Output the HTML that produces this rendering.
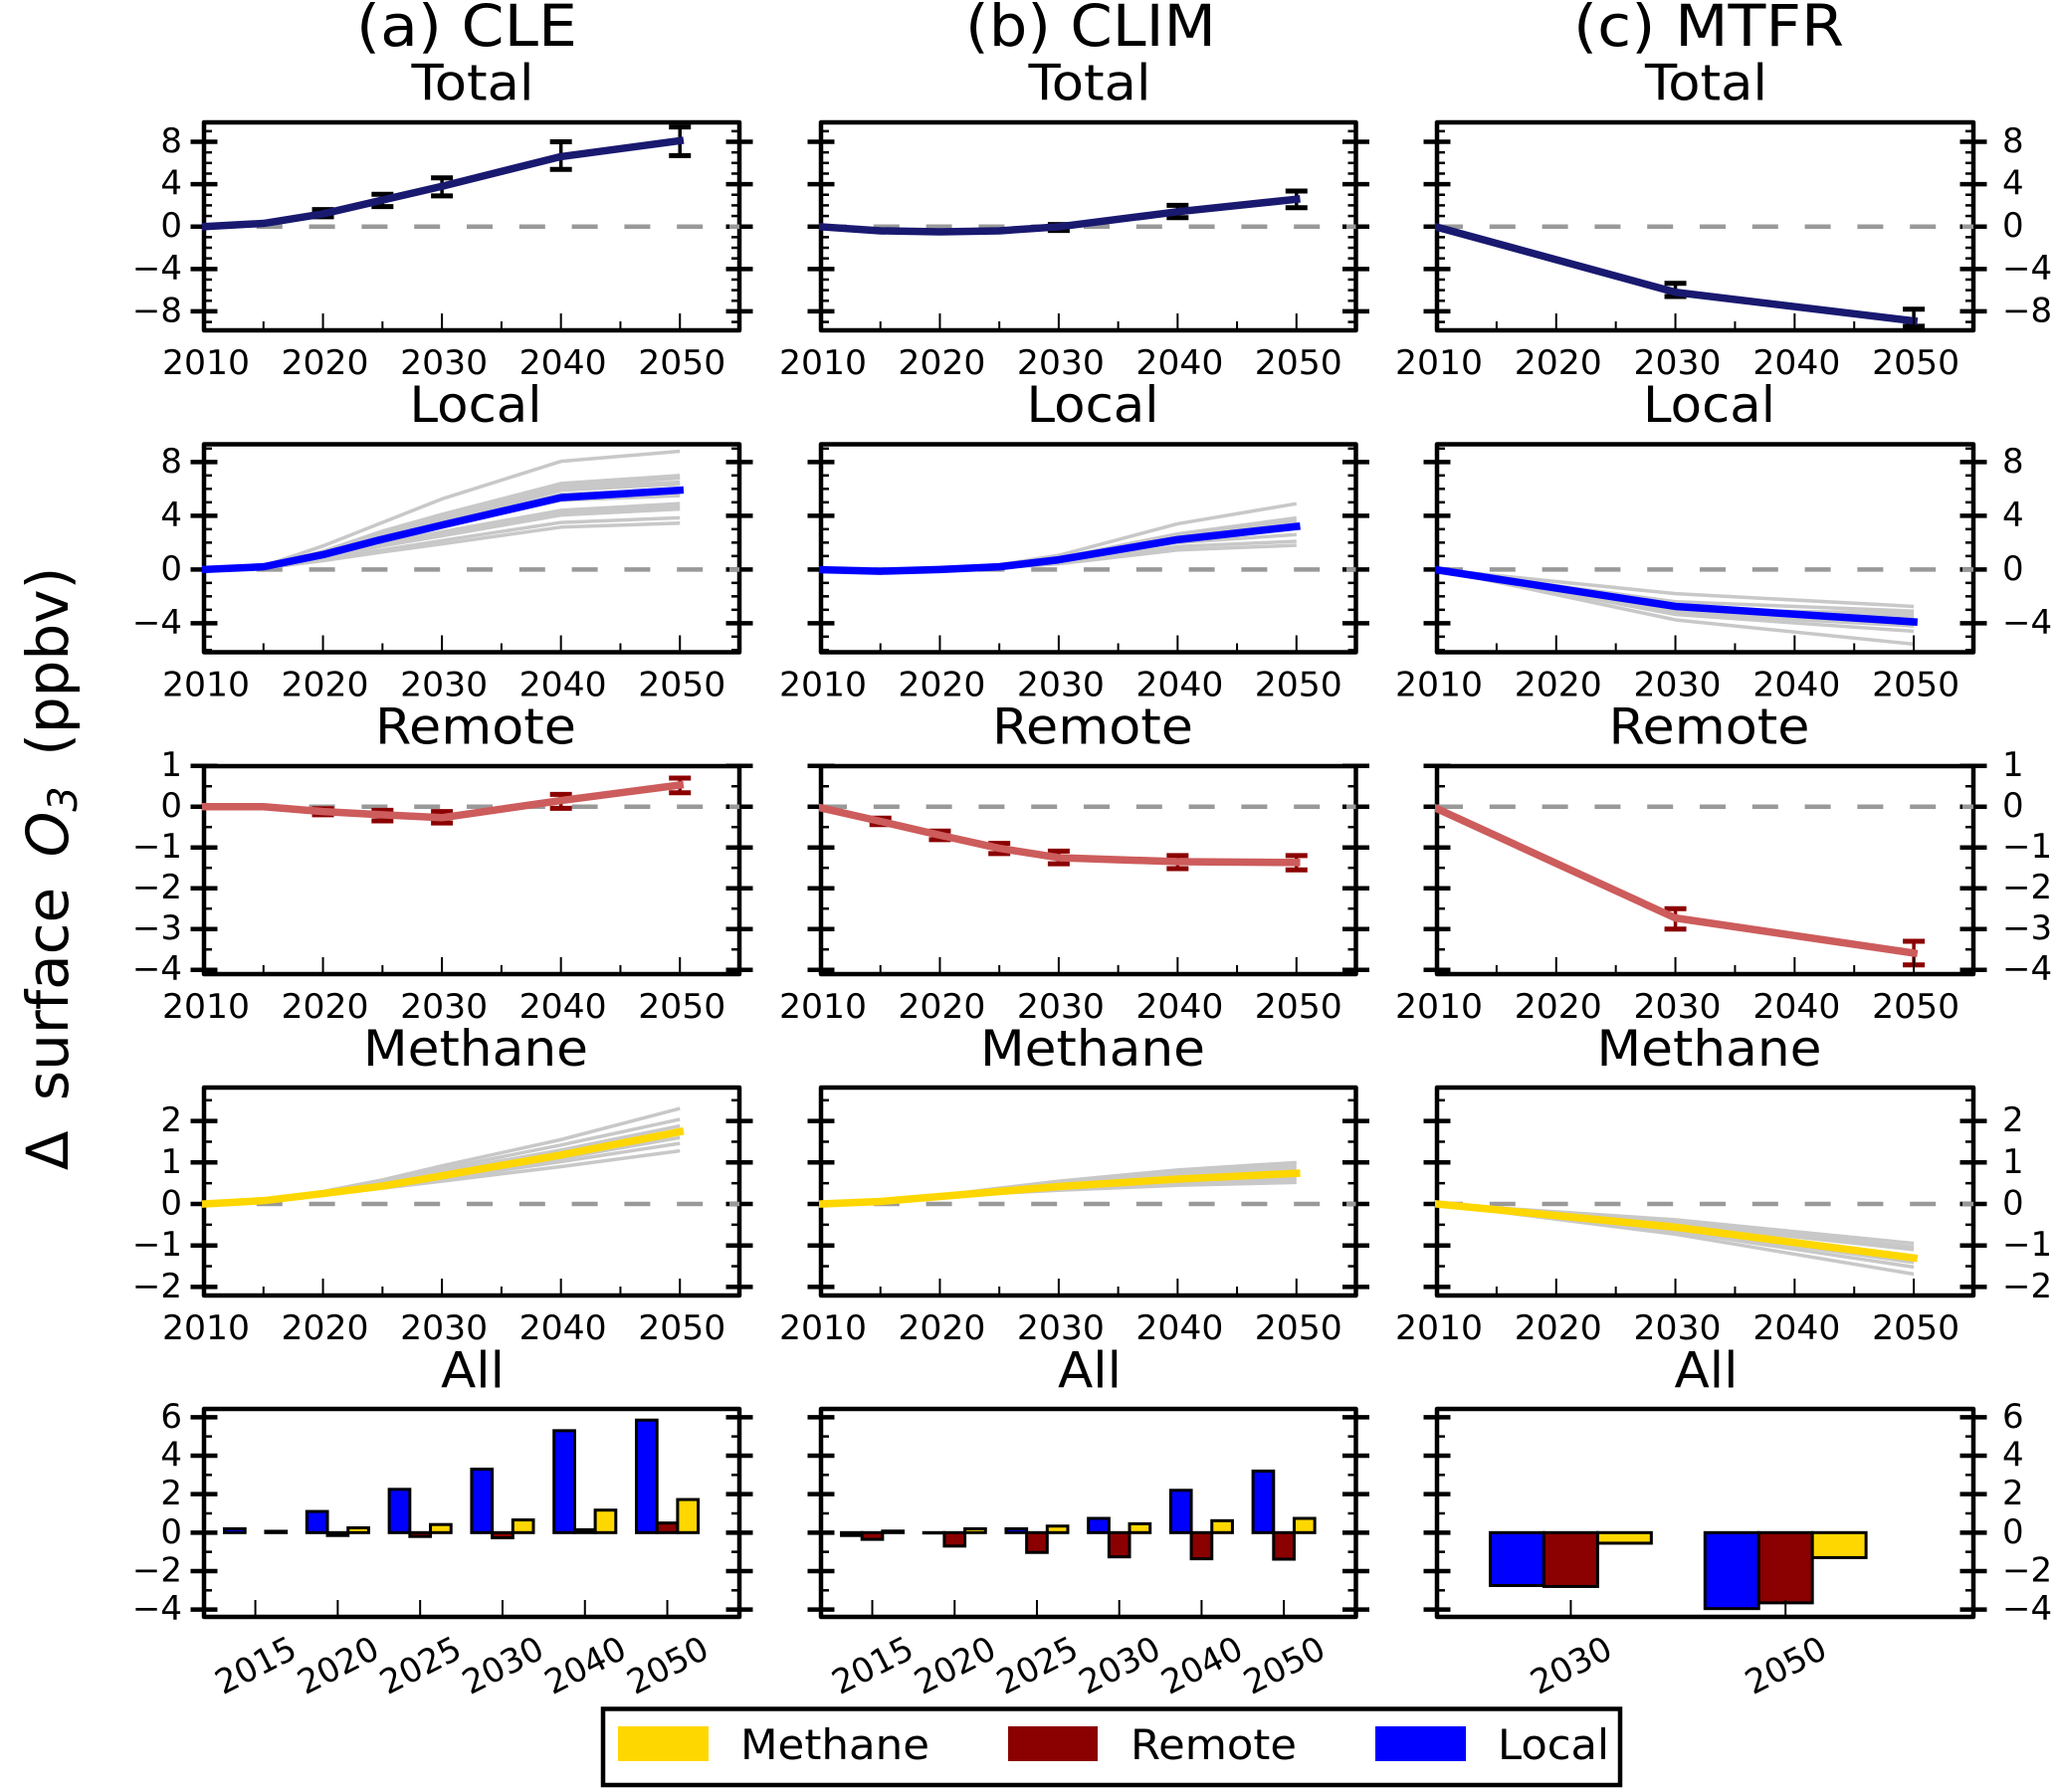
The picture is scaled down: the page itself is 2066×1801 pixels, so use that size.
<!DOCTYPE html>
<html lang="en">
<head>
<meta charset="utf-8">
<title>Change in surface ozone by scenario</title>
<style>
html,body{margin:0;padding:0;background:#fff;width:2066px;height:1801px;overflow:hidden}
svg{display:block}
text{font-family:"DejaVu Sans","Liberation Sans",sans-serif;fill:#000}
</style>
</head>
<body>
<svg id="figure" xmlns="http://www.w3.org/2000/svg" width="2066" height="1801" viewBox="0 0 2066 1801">
  <rect x="0" y="0" width="2066" height="1801" fill="#fff"/>
  <text x="469" y="46" font-size="58" text-anchor="middle" textLength="222" lengthAdjust="spacingAndGlyphs">(a) CLE</text>
  <text x="1096" y="46" font-size="58" text-anchor="middle" textLength="252" lengthAdjust="spacingAndGlyphs">(b) CLIM</text>
  <text x="1717" y="46" font-size="58" text-anchor="middle" textLength="272" lengthAdjust="spacingAndGlyphs">(c) MTFR</text>
  <text transform="translate(68 873) rotate(-90)" font-size="58" text-anchor="middle" word-spacing="12">Δ surface <tspan font-style="italic">O</tspan><tspan font-style="italic" font-size="40" dy="9">3</tspan><tspan dy="-9"> (ppbv)</tspan></text>
  <g id="panels"></g>
  <g>
    <rect x="606" y="1717.5" width="1022" height="76.5" fill="#fff" stroke="#000" stroke-width="4.5"/>
    <rect x="621" y="1735" width="91" height="35" fill="#ffd700"/>
    <text x="744" y="1768" font-size="42" textLength="190" lengthAdjust="spacingAndGlyphs">Methane</text>
    <rect x="1013" y="1735" width="90" height="35" fill="#8b0000"/>
    <text x="1136" y="1768" font-size="42" textLength="167" lengthAdjust="spacingAndGlyphs">Remote</text>
    <rect x="1382" y="1735" width="91" height="35" fill="#0000ff"/>
    <text x="1505" y="1768" font-size="42" textLength="112" lengthAdjust="spacingAndGlyphs">Local</text>
  </g>
</svg>
<script>
/* ---------- data ---------- */
const yearsFull = [2010, 2015, 2020, 2025, 2030, 2040, 2050];
const yearsMtfr = [2010, 2030, 2050];
const errYearsCleTotal = [2020, 2025, 2030, 2040, 2050];
const errYearsClimTotal = [2030, 2040, 2050];
const errYearsMtfr = [2030, 2050];
const errYearsCleRemote = [2020, 2025, 2030, 2040, 2050];
const errYearsClimRemote = [2015, 2020, 2025, 2030, 2040, 2050];
const xTickMajor = [2010, 2020, 2030, 2040, 2050];
const xTickMinor = [2015, 2025, 2035, 2045];
const xTickLabels = ['2010', '2020', '2030', '2040', '2050'];

const totalTicks = [8, 4, 0, -4, -8];
const localTicks = [8, 4, 0, -4];
const remoteTicks = [1, 0, -1, -2, -3, -4];
const methaneTicks = [2, 1, 0, -1, -2];
const allTicks = [6, 4, 2, 0, -2, -4];
const totalMinor = [9, 7, 6, 5, 3, 2, 1, -1, -2, -3, -5, -6, -7, -9];
const localMinor = [9, 7, 6, 5, 3, 2, 1, -1, -2, -3, -5, -6];
const remoteMinor = [0.5, -0.5, -1.5, -2.5, -3.5];
const methaneMinor = [2.5, 1.5, 0.5, -0.5, -1.5];
const allMinor = [5, 3, 1, -1, -3];

const cleTotal = [0, 0.3, 1.2, 2.5, 3.8, 6.6, 8.1];
const cleTotalLow = [0.92, 1.88, 2.9, 5.4, 6.7];
const cleTotalHigh = [1.6, 3.05, 4.6, 8.0, 9.4];
const climTotal = [-0.02, -0.4, -0.5, -0.4, -0.02, 1.4, 2.58];
const climTotalLow = [-0.37, 0.84, 1.78];
const climTotalHigh = [0.2, 2.0, 3.35];
const mtfrTotal = [-0.05, -6.2, -8.9];
const mtfrTotalLow = [-6.6, -9.4];
const mtfrTotalHigh = [-5.35, -7.8];

const cleLocal = [0, 0.2, 1.1, 2.25, 3.3, 5.35, 5.9];
const climLocal = [-0.02, -0.13, 0, 0.2, 0.72, 2.22, 3.2];
const mtfrLocal = [-0.03, -2.75, -3.9];
const cleLocalMembers = [
  [0, 0.25, 1.75, 3.5, 5.25, 8.05, 8.8],
  [0, 0.22, 1.35, 2.85, 4.1, 6.4, 7.0],
  [0, 0.22, 1.3, 2.75, 3.95, 6.2, 6.8],
  [0, 0.2, 1.25, 2.65, 3.8, 6.05, 6.5],
  [0, 0.2, 1.2, 2.5, 3.6, 5.9, 6.35],
  [0, 0.2, 1.1, 2.35, 3.4, 5.6, 5.95],
  [0, 0.18, 1.05, 2.2, 3.2, 5.15, 5.5],
  [0, 0.16, 0.95, 1.95, 2.8, 4.4, 4.9],
  [0, 0.16, 0.9, 1.85, 2.65, 4.2, 4.65],
  [0, 0.15, 0.85, 1.75, 2.5, 4.05, 4.5],
  [0, 0.12, 0.75, 1.45, 2.15, 3.5, 3.85],
  [0, 0.1, 0.65, 1.3, 1.9, 3.15, 3.45]
];
const climLocalMembers = [
  [-0.02, -0.1, 0.1, 0.35, 1.05, 3.4, 4.9],
  [-0.02, -0.12, 0.02, 0.28, 0.85, 2.65, 3.84],
  [-0.02, -0.13, 0, 0.22, 0.75, 2.45, 3.6],
  [-0.02, -0.14, -0.02, 0.18, 0.6, 2.0, 2.6],
  [-0.02, -0.15, -0.03, 0.15, 0.5, 1.7, 2.1],
  [-0.02, -0.15, -0.05, 0.12, 0.42, 1.45, 1.8]
];
const mtfrLocalMembers = [
  [0, -1.8, -2.75],
  [0, -2.4, -3.1],
  [0, -3.0, -3.25],
  [0, -3.05, -3.5],
  [0, -3.15, -3.75],
  [0, -3.25, -4.2],
  [0, -3.35, -4.6],
  [0, -3.75, -5.56]
];

const cleRemote = [0, 0, -0.12, -0.2, -0.27, 0.15, 0.53];
const cleRemoteLow = [-0.2, -0.35, -0.4, -0.04, 0.34];
const cleRemoteHigh = [-0.05, -0.09, -0.12, 0.3, 0.7];
const climRemote = [-0.03, -0.36, -0.7, -1.02, -1.25, -1.35, -1.37];
const climRemoteLow = [-0.44, -0.81, -1.15, -1.4, -1.52, -1.55];
const climRemoteHigh = [-0.28, -0.6, -0.9, -1.09, -1.2, -1.2];
const mtfrRemote = [-0.05, -2.73, -3.59];
const mtfrRemoteLow = [-3.0, -3.88];
const mtfrRemoteHigh = [-2.5, -3.3];

const cleMethane = [0, 0.08, 0.25, 0.43, 0.68, 1.18, 1.74];
const climMethane = [0, 0.06, 0.18, 0.3, 0.42, 0.6, 0.74];
const mtfrMethane = [0, -0.56, -1.3];
const cleMethaneMembers = [
  [0, 0.09, 0.3, 0.58, 0.92, 1.55, 2.3],
  [0, 0.08, 0.28, 0.55, 0.85, 1.42, 2.04],
  [0, 0.08, 0.27, 0.5, 0.78, 1.3, 1.88],
  [0, 0.08, 0.25, 0.42, 0.64, 1.1, 1.6],
  [0, 0.07, 0.24, 0.4, 0.6, 1.02, 1.46],
  [0, 0.07, 0.22, 0.38, 0.55, 0.9, 1.28]
];
const climMethaneMembers = [
  [0, 0.06, 0.2, 0.38, 0.55, 0.82, 1.0],
  [0, 0.06, 0.2, 0.36, 0.5, 0.75, 0.92],
  [0, 0.06, 0.18, 0.33, 0.46, 0.68, 0.84],
  [0, 0.06, 0.17, 0.28, 0.38, 0.52, 0.64],
  [0, 0.05, 0.17, 0.27, 0.35, 0.48, 0.58],
  [0, 0.05, 0.16, 0.26, 0.33, 0.45, 0.52]
];
const mtfrMethaneMembers = [
  [0, -0.38, -0.95],
  [0, -0.42, -1.04],
  [0, -0.48, -1.1],
  [0, -0.6, -1.41],
  [0, -0.66, -1.52],
  [0, -0.73, -1.69]
];

const barCategoriesFull = ['2015', '2020', '2025', '2030', '2040', '2050'];
const barCategoriesMtfr = ['2030', '2050'];
const cleBarLocal = [0.2, 1.1, 2.25, 3.3, 5.3, 5.85];
const cleBarRemote = [0, -0.15, -0.2, -0.27, 0.15, 0.5];
const cleBarMethane = [0.07, 0.25, 0.42, 0.66, 1.17, 1.72];
const climBarLocal = [-0.15, -0.02, 0.2, 0.74, 2.2, 3.2];
const climBarRemote = [-0.35, -0.7, -1.03, -1.26, -1.36, -1.38];
const climBarMethane = [0.08, 0.2, 0.34, 0.46, 0.62, 0.74];
const mtfrBarLocal = [-2.75, -3.95];
const mtfrBarRemote = [-2.8, -3.65];
const mtfrBarMethane = [-0.55, -1.3];

/* ---------- layout ---------- */
const SVGNS = 'http://www.w3.org/2000/svg';
const COL_A = { left: 205, right: 743, tx: 474, side: 'left' };
const COL_B = { left: 825, right: 1362.5, tx: 1094, side: 'none' };
const COL_C = { left: 1444, right: 1983, tx: 1713.5, side: 'right' };
const ROW_TOTAL = { top: 123, bottom: 332, ymax: 9.83, ymin: -9.79, title: 'Total', width: 123, shift: 1, base: 100.5, major: totalTicks, minor: totalMinor };
const ROW_LOCAL = { top: 446.5, bottom: 655.5, ymax: 9.32, ymin: -6.16, title: 'Local', width: 133, shift: 4, base: 424, major: localTicks, minor: localMinor };
const ROW_REMOTE = { top: 770, bottom: 979, ymax: 0.993, ymin: -4.105, title: 'Remote', width: 202, shift: 4, base: 747.5, major: remoteTicks, minor: remoteMinor };
const ROW_METHANE = { top: 1093, bottom: 1302, ymax: 2.806, ymin: -2.206, title: 'Methane', width: 226, shift: 4, base: 1071, major: methaneTicks, minor: methaneMinor };
const ROW_ALL = { top: 1416, bottom: 1625, ymax: 6.43, ymin: -4.38, title: 'All', width: 64, shift: 1, base: 1394.5, major: allTicks, minor: allMinor };
const GOLD = '#ffd700', BLUE = '#0000ff', DARKRED = '#8b0000', INDIANRED = '#cd5c5c', NAVY = '#191970', GREY = '#c8c8c8';

const root = document.getElementById('panels');
let clipCounter = 0;

function mk(parent, tag, attrs, name, text) {
  const el = document.createElementNS(SVGNS, tag);
  Object.keys(attrs).forEach(function (k) { el.setAttribute(k, attrs[k]); });
  
  
  if (text !== undefined) el.textContent = text;
  parent.appendChild(el);
  return el;
}

function makeAxes(col, row, key) {
  const g = mk(root, 'g', {}, 'panel-' + key);
  const yScale = function (v) {
    return row.top + (row.ymax - v) * (row.bottom - row.top) / (row.ymax - row.ymin);
  };
  mk(g, 'text', { x: col.tx + row.shift, y: row.base, 'font-size': 50, 'text-anchor': 'middle', textLength: row.width, lengthAdjust: 'spacingAndGlyphs' }, 'panel-title', row.title);
  row.minor.forEach(function (v) {
    const y = yScale(v);
    mk(g, 'line', { x1: col.left, x2: col.left + 8, y1: y, y2: y, stroke: '#000', 'stroke-width': 2.5 }, 'y-minor-tick');
    mk(g, 'line', { x1: col.right - 8, x2: col.right, y1: y, y2: y, stroke: '#000', 'stroke-width': 2.5 }, 'y-minor-tick');
  });
  row.major.forEach(function (v) {
    const y = yScale(v);
    mk(g, 'line', { x1: col.left - 13.5, x2: col.left + 13.5, y1: y, y2: y, stroke: '#000', 'stroke-width': 4.5 }, 'y-major-tick');
    mk(g, 'line', { x1: col.right - 13.5, x2: col.right + 13.5, y1: y, y2: y, stroke: '#000', 'stroke-width': 4.5 }, 'y-major-tick');
    const label = String(v).replace('-', '\u2212');
    if (col.side === 'left') {
      mk(g, 'text', { x: 183, y: y + 10.5, 'font-size': 34, 'text-anchor': 'end' }, 'y-tick-label', label);
    } else if (col.side === 'right') {
      mk(g, 'text', { x: 2012, y: y + 10.5, 'font-size': 34 }, 'y-tick-label', label);
    }
  });
  mk(g, 'rect', { x: col.left, y: row.top, width: col.right - col.left, height: row.bottom - row.top, fill: 'none', stroke: '#000', 'stroke-width': 4.5, 'stroke-linejoin': 'round' }, 'axes-frame');
  const clipId = 'clip' + (clipCounter++);
  const defs = mk(g, 'defs', {}, 'axes-defs');
  const clip = mk(defs, 'clipPath', { id: clipId }, 'axes-clip');
  mk(clip, 'rect', { x: col.left - 2, y: row.top - 2, width: col.right - col.left + 4, height: row.bottom - row.top + 4 }, 'axes-clip-area');
  const marks = mk(g, 'g', { 'clip-path': 'url(#' + clipId + ')' }, 'plot-area');
  return { g: g, marks: marks, yScale: yScale };
}

function drawLine(parent, pts, color, width, name, cap) {
  mk(parent, 'polyline', {
    points: pts.map(function (p) { return p[0].toFixed(2) + ',' + p[1].toFixed(2); }).join(' '),
    fill: 'none', stroke: color, 'stroke-width': width, 'stroke-linejoin': 'round', 'stroke-linecap': cap
  }, name);
}

function linePanel(col, row, key, years, values, color, opts) {
  const a = makeAxes(col, row, key);
  const xScale = function (yr) { return col.left + (yr - 2010) * (col.right - col.left) / 45; };
  xTickMinor.forEach(function (yr) {
    const x = xScale(yr);
    mk(a.g, 'line', { x1: x, x2: x, y1: row.bottom, y2: row.bottom - 9, stroke: '#000', 'stroke-width': 2 }, 'x-minor-tick');
  });
  xTickMajor.forEach(function (yr, i) {
    const x = xScale(yr);
    if (i > 0) mk(a.g, 'line', { x1: x, x2: x, y1: row.bottom, y2: row.bottom - 17, stroke: '#000', 'stroke-width': 2 }, 'x-major-tick');
    mk(a.g, 'text', { x: x + 2, y: row.bottom + 44, 'font-size': 34, 'text-anchor': 'middle', textLength: 88, lengthAdjust: 'spacingAndGlyphs' }, 'x-tick-label', xTickLabels[i]);
  });
  const y0 = a.yScale(0);
  mk(a.marks, 'line', { x1: col.left, x2: col.right, y1: y0, y2: y0, stroke: '#999', 'stroke-width': 4.5, 'stroke-dasharray': '26 26.8' }, 'zero-reference-line');
  (opts.members || []).forEach(function (series) {
    drawLine(a.marks, series.map(function (v, i) { return [xScale(years[i]), a.yScale(v)]; }), GREY, 3.5, 'member-line', 'butt');
  });
  if (opts.errYears) {
    opts.errYears.forEach(function (yr, i) {
      const x = xScale(yr);
      const lo = a.yScale(opts.low[i]);
      const hi = a.yScale(opts.high[i]);
      mk(a.marks, 'line', { x1: x, x2: x, y1: lo, y2: hi, stroke: opts.errColor, 'stroke-width': 3.5 }, 'error-bar');
      mk(a.marks, 'line', { x1: x - 11, x2: x + 11, y1: lo, y2: lo, stroke: opts.errColor, 'stroke-width': 5 }, 'error-cap-low');
      mk(a.marks, 'line', { x1: x - 11, x2: x + 11, y1: hi, y2: hi, stroke: opts.errColor, 'stroke-width': 5 }, 'error-cap-high');
    });
  }
  drawLine(a.marks, values.map(function (v, i) { return [xScale(years[i]), a.yScale(v)]; }), color, 7.5, 'mean-line', 'square');
}

function barPanel(col, row, key, categories, local, remote, methane) {
  const a = makeAxes(col, row, key);
  const n = categories.length;
  const unit = (col.right - col.left) / (n - 1 + 1.498);
  const xScale = function (i) { return col.left + (i + 0.623) * unit; };
  const y0 = a.yScale(0);
  const barWidth = unit * 0.25;
  categories.forEach(function (cat, i) {
    const x = xScale(i);
    mk(a.g, 'line', { x1: x, x2: x, y1: row.bottom, y2: row.bottom - 17, stroke: '#000', 'stroke-width': 2 }, 'x-major-tick');
    const cy = row.bottom + 48;
    mk(a.g, 'text', { x: x, y: cy + 12.5, 'font-size': 34, 'text-anchor': 'middle', textLength: 86, lengthAdjust: 'spacingAndGlyphs', transform: 'rotate(-27 ' + x + ' ' + cy + ')' }, 'x-tick-label', cat);
    [[local[i], BLUE, 'bar-local'], [remote[i], DARKRED, 'bar-remote'], [methane[i], GOLD, 'bar-methane']].forEach(function (b, j) {
      const yv = a.yScale(b[0]);
      mk(a.marks, 'rect', {
        x: x - 1.5 * barWidth + j * barWidth,
        y: Math.min(y0, yv),
        width: barWidth,
        height: Math.abs(yv - y0),
        fill: b[1], stroke: '#000', 'stroke-width': 3
      }, b[2]);
    });
  });
}

/* ---------- build ---------- */
linePanel(COL_A, ROW_TOTAL, 'cle-total', yearsFull, cleTotal, NAVY, { errYears: errYearsCleTotal, low: cleTotalLow, high: cleTotalHigh, errColor: '#000' });
linePanel(COL_B, ROW_TOTAL, 'clim-total', yearsFull, climTotal, NAVY, { errYears: errYearsClimTotal, low: climTotalLow, high: climTotalHigh, errColor: '#000' });
linePanel(COL_C, ROW_TOTAL, 'mtfr-total', yearsMtfr, mtfrTotal, NAVY, { errYears: errYearsMtfr, low: mtfrTotalLow, high: mtfrTotalHigh, errColor: '#000' });

linePanel(COL_A, ROW_LOCAL, 'cle-local', yearsFull, cleLocal, BLUE, { members: cleLocalMembers });
linePanel(COL_B, ROW_LOCAL, 'clim-local', yearsFull, climLocal, BLUE, { members: climLocalMembers });
linePanel(COL_C, ROW_LOCAL, 'mtfr-local', yearsMtfr, mtfrLocal, BLUE, { members: mtfrLocalMembers });

linePanel(COL_A, ROW_REMOTE, 'cle-remote', yearsFull, cleRemote, INDIANRED, { errYears: errYearsCleRemote, low: cleRemoteLow, high: cleRemoteHigh, errColor: DARKRED });
linePanel(COL_B, ROW_REMOTE, 'clim-remote', yearsFull, climRemote, INDIANRED, { errYears: errYearsClimRemote, low: climRemoteLow, high: climRemoteHigh, errColor: DARKRED });
linePanel(COL_C, ROW_REMOTE, 'mtfr-remote', yearsMtfr, mtfrRemote, INDIANRED, { errYears: errYearsMtfr, low: mtfrRemoteLow, high: mtfrRemoteHigh, errColor: DARKRED });

linePanel(COL_A, ROW_METHANE, 'cle-methane', yearsFull, cleMethane, GOLD, { members: cleMethaneMembers });
linePanel(COL_B, ROW_METHANE, 'clim-methane', yearsFull, climMethane, GOLD, { members: climMethaneMembers });
linePanel(COL_C, ROW_METHANE, 'mtfr-methane', yearsMtfr, mtfrMethane, GOLD, { members: mtfrMethaneMembers });

barPanel(COL_A, ROW_ALL, 'cle-all', barCategoriesFull, cleBarLocal, cleBarRemote, cleBarMethane);
barPanel(COL_B, ROW_ALL, 'clim-all', barCategoriesFull, climBarLocal, climBarRemote, climBarMethane);
barPanel(COL_C, ROW_ALL, 'mtfr-all', barCategoriesMtfr, mtfrBarLocal, mtfrBarRemote, mtfrBarMethane);
</script>
</body>
</html>
